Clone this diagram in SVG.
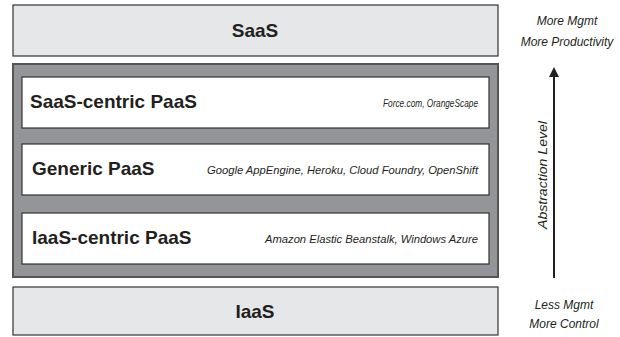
<svg xmlns="http://www.w3.org/2000/svg" width="620" height="337" viewBox="0 0 620 337">
  <defs>
    <style>
      .outer { fill: #e6e7e8; stroke: #333333; stroke-width: 1.2; }
      .group { fill: #939598; stroke: #555555; stroke-width: 2; }
      .inner { fill: #ffffff; stroke: #333333; stroke-width: 1.2; }
      .title { font-family: "Liberation Sans", Arial, sans-serif; font-weight: bold; font-size: 19px; fill: #231f20; }
      .ex { font-family: "Liberation Sans", Arial, sans-serif; font-style: italic; font-size: 11px; fill: #231f20; text-anchor: end; }
      .side { font-family: "Liberation Sans", Arial, sans-serif; font-style: italic; font-size: 12px; fill: #231f20; text-anchor: middle; }
    </style>
    <marker id="arrowhead" markerWidth="10" markerHeight="10" refX="5" refY="5" orient="auto" markerUnits="userSpaceOnUse">
      <path d="M0,0 L10,5 L0,10 Z" fill="#231f20"/>
    </marker>
  </defs>

  <g id="saas">
    <rect class="outer" x="13" y="5" width="485" height="51"/>
    <text class="title" x="255" y="37" text-anchor="middle">SaaS</text>
  </g>

  <g id="paas">
    <rect class="group" x="13" y="64" width="485" height="213"/>
  </g>

  <g id="saas-centric-paas">
    <rect class="inner" x="22" y="77" width="467" height="51"/>
    <text class="title" x="30" y="108">SaaS-centric PaaS</text>
    <text class="ex" x="478" y="107" textLength="95" lengthAdjust="spacingAndGlyphs">Force.com, OrangeScape</text>
  </g>

  <g id="generic-paas">
    <rect class="inner" x="22" y="144" width="467" height="51"/>
    <text class="title" x="32" y="175">Generic PaaS</text>
    <text class="ex" x="478" y="174" textLength="271" lengthAdjust="spacingAndGlyphs">Google AppEngine, Heroku, Cloud Foundry, OpenShift</text>
  </g>

  <g id="iaas-centric-paas">
    <rect class="inner" x="22" y="213" width="467" height="51"/>
    <text class="title" x="32" y="244">IaaS-centric PaaS</text>
    <text class="ex" x="478" y="243" textLength="213" lengthAdjust="spacingAndGlyphs">Amazon Elastic Beanstalk, Windows Azure</text>
  </g>

  <g id="iaas">
    <rect class="outer" x="13" y="287" width="485" height="48"/>
    <text class="title" x="255" y="318" text-anchor="middle">IaaS</text>
  </g>

  <g id="top-label">
    <text class="side" x="567" y="25">More Mgmt</text>
    <text class="side" x="567" y="46">More Productivity</text>
  </g>

  <g id="bottom-label">
    <text class="side" x="564" y="309">Less Mgmt</text>
    <text class="side" x="564" y="328">More Control</text>
  </g>

  <g id="connectors">
    <line x1="554" y1="278" x2="554" y2="72" stroke="#231f20" stroke-width="2" marker-end="url(#arrowhead)"/>
    <text class="side" x="0" y="0" transform="translate(547,175) rotate(-90)" textLength="108" lengthAdjust="spacingAndGlyphs">Abstraction Level</text>
  </g>
</svg>
